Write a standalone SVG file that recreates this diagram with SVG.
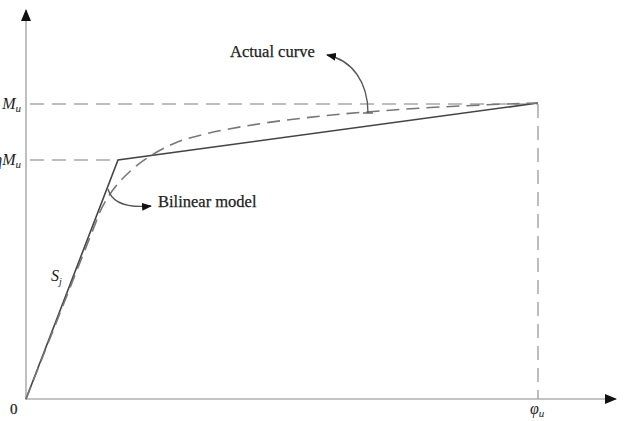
<svg xmlns="http://www.w3.org/2000/svg" width="635" height="421" viewBox="0 0 635 421">
<defs>
<marker id="ah" markerWidth="10" markerHeight="8" refX="9" refY="4" orient="auto" markerUnits="userSpaceOnUse"><path d="M0,0 L10,4 L0,8 Z" fill="#111"/></marker>
<marker id="axh" markerWidth="12" markerHeight="10" refX="11" refY="5" orient="auto" markerUnits="userSpaceOnUse"><path d="M0,0 L12,5 L0,10 Z" fill="#111"/></marker>
</defs>
<style>
.axis{stroke:#b0b0b0;stroke-width:1.6;fill:none}
.guide{stroke:#a8a8a8;stroke-width:1.5;fill:none;stroke-dasharray:14 8}
.bil{stroke:#444;stroke-width:1.6;fill:none}
.act{stroke:#777;stroke-width:1.6;fill:none;stroke-dasharray:13 7}
.lead{stroke:#555;stroke-width:1.3;fill:none}
.lbl{font-family:"Liberation Serif","Times New Roman",serif;font-size:16.5px;fill:#222;stroke:#222;stroke-width:0.25}
.sym{font-family:"Liberation Serif","Times New Roman",serif;font-style:italic;font-size:16px;fill:#222}
</style>
<g id="axes">
<line class="axis" x1="26" y1="400" x2="26" y2="10" marker-end="url(#axh)"/>
<line class="axis" x1="26" y1="399" x2="616" y2="399" marker-end="url(#axh)"/>
</g>
<g id="guides">
<line class="guide" x1="30" y1="104" x2="538" y2="104"/>
<line class="guide" x1="30" y1="160" x2="118" y2="160"/>
<line class="guide" x1="538" y1="104" x2="538" y2="399"/>
</g>
<g id="bilinear-model">
<polyline class="bil" points="26,399 118,160 538,103"/>
</g>
<g id="actual-curve">
<path class="act" d="M26,399 L96,222 C106,192 132,160 180,141 C250,118 400,107 538,103"/>
</g>
<g id="connectors">
<path class="lead" d="M368,113 C368,82 352,60 327,55" marker-end="url(#ah)"/>
<line class="lead" x1="363" y1="113" x2="373" y2="113"/>
<path class="lead" d="M108,189 C112,204 128,208 151,206" marker-end="url(#ah)"/>
</g>
<g id="labels">
<text class="lbl" x="230" y="57">Actual curve</text>
<text class="lbl" x="158" y="207">Bilinear model</text>
<text class="sym" x="21" y="109" text-anchor="end">M<tspan font-size="11" dy="3">u</tspan></text>
<text class="sym" x="21" y="165" text-anchor="end">ηM<tspan font-size="11" dy="3">u</tspan></text>
<text class="sym" x="51" y="281">S<tspan font-size="10" dy="4">j</tspan></text>
<text class="lbl" x="10" y="414" style="font-size:15px">0</text>
<text class="sym" x="530" y="414">φ<tspan font-size="11" dy="3">u</tspan></text>
</g>
</svg>
